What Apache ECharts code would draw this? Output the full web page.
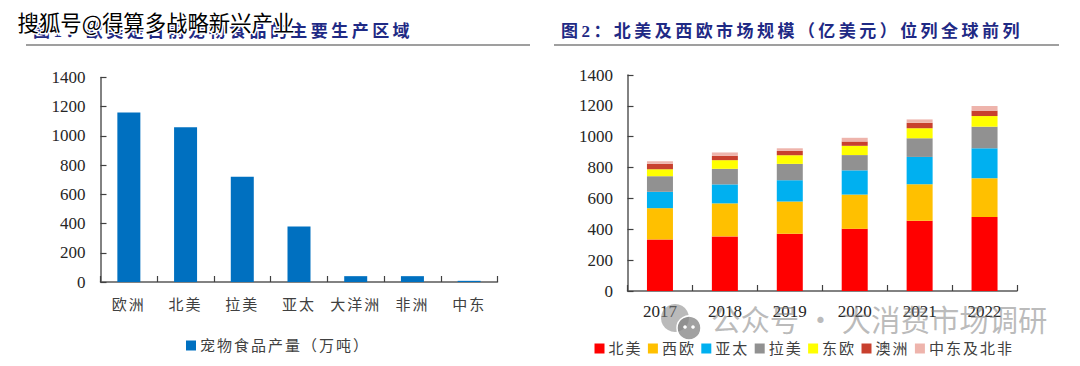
<!DOCTYPE html>
<html>
<head>
<meta charset="utf-8">
<style>
  html, body { margin: 0; padding: 0; background: #fff; }
  #chart { width: 1080px; height: 366px; }
  /* echarts has no letter spacing option, so set it on the svg text */
  #chart text[style*="Liberation Serif"][style*="CJK"] { letter-spacing: 2px; }
  #chart text[style*="Liberation Serif"][style*="bold"] { letter-spacing: 3.45px; }
</style>
<script src="https://cdn.jsdelivr.net/npm/echarts@6/dist/echarts.min.js"></script>
</head>
<body>
<div id="chart"></div>
<script>
const regions = ['欧洲', '北美', '拉美', '亚太', '大洋洲', '非洲', '中东']
const output = [1160, 1060, 720, 380, 40, 40, 8]

const years = ['2017', '2018', '2019', '2020', '2021', '2022']
const northAmerica = [334, 354, 371, 403, 455, 479]
const westEurope = [203, 214, 209, 222, 237, 252]
const asiaPacific = [106, 123, 138, 157, 177, 194]
const latinAmerica = [101, 101, 106, 99, 121, 140]
const eastEurope = [45, 56, 56, 60, 65, 69]
const australasia = [35, 28, 28, 28, 35, 35]
const middleEastAfrica = [17, 22, 17, 24, 22, 30]

const serif = '"Liberation Serif"'
const labelFont = '"Liberation Serif", "Noto Sans CJK SC"'
const axisColor = '#595959'

const axisBase = {
  axisLine: { show: true, lineStyle: { color: axisColor, width: 1.5 } },
  axisTick: { show: true, inside: true, length: 6, lineStyle: { color: '#404040', width: 1.2 } },
  splitLine: { show: false }
}

const valueLabel = margin => ({
  color: '#262626',
  fontSize: 17,
  fontFamily: serif,
  margin,
  formatter: value => String(value)
})

const stackSeries = (name, data, color) => ({
  name,
  data,
  type: 'bar',
  stack: 'market',
  xAxisIndex: 1,
  yAxisIndex: 1,
  barWidth: 26,
  itemStyle: { color }
})

const option = {
  backgroundColor: '#fff',
  animation: false,
  title: [
    {
      text: '图1：欧美是目前宠物食品的主要生产区域',
      left: 28,
      top: 18,
      textStyle: { color: '#1f2a85', fontSize: 17, fontWeight: 'bold', fontFamily: labelFont }
    },
    {
      text: '图2：北美及西欧市场规模（亿美元）位列全球前列',
      left: 556,
      top: 18,
      textStyle: { color: '#1f2a85', fontSize: 17, fontWeight: 'bold', fontFamily: labelFont }
    }
  ],
  grid: [
    { left: 100.5, top: 77.5, width: 397, height: 204.5 },
    { left: 627.5, top: 75, width: 389.5, height: 216 }
  ],
  legend: [
    {
      data: ['宠物食品产量（万吨）'],
      left: 181,
      top: 333,
      icon: 'rect',
      itemWidth: 10,
      itemHeight: 10,
      itemGap: 10,
      textStyle: { color: '#404040', fontSize: 15, fontFamily: labelFont, padding: [0, 0, 0, -1] }
    },
    {
      data: ['北美', '西欧', '亚太', '拉美', '东欧', '澳洲', '中东及北非'],
      left: 589.5,
      top: 336,
      icon: 'rect',
      itemWidth: 10,
      itemHeight: 10,
      itemGap: 9.4,
      textStyle: { color: '#404040', fontSize: 15, fontFamily: labelFont, padding: [0, 0, 0, -1] }
    }
  ],
  xAxis: [
    {
      ...axisBase,
      type: 'category',
      gridIndex: 0,
      data: regions,
      axisLabel: { color: '#404040', fontSize: 15, fontFamily: labelFont, margin: 15, interval: 0 }
    },
    {
      ...axisBase,
      type: 'category',
      gridIndex: 1,
      data: years,
      axisLabel: { color: '#262626', fontSize: 17, fontFamily: serif, margin: 12, interval: 0 }
    }
  ],
  yAxis: [
    {
      ...axisBase,
      type: 'value',
      gridIndex: 0,
      min: 0,
      max: 1400,
      interval: 200,
      axisLabel: valueLabel(15)
    },
    {
      ...axisBase,
      type: 'value',
      gridIndex: 1,
      min: 0,
      max: 1400,
      interval: 200,
      axisLabel: valueLabel(14.5)
    }
  ],
  series: [
    {
      name: '宠物食品产量（万吨）',
      data: output,
      type: 'bar',
      barWidth: 23,
      itemStyle: { color: '#0070c0' }
    },
    stackSeries('北美', northAmerica, '#ff0000'),
    stackSeries('西欧', westEurope, '#ffc000'),
    stackSeries('亚太', asiaPacific, '#00b0f0'),
    stackSeries('拉美', latinAmerica, '#919191'),
    stackSeries('东欧', eastEurope, '#ffff00'),
    stackSeries('澳洲', australasia, '#c8402e'),
    stackSeries('中东及北非', middleEastAfrica, '#eeb4ac')
  ],
  graphic: [
    // rules under the titles
    { type: 'line', shape: { x1: 26, y1: 45, x2: 530, y2: 45 }, style: { stroke: '#7f7f7f', lineWidth: 1.5 } },
    { type: 'line', shape: { x1: 554, y1: 45, x2: 1059, y2: 45 }, style: { stroke: '#7f7f7f', lineWidth: 1.5 } },
    // site stamp over the left title
    {
      type: 'text',
      left: 16,
      top: 9,
      z: 100,
      style: {
        text: '搜狐号@得算多战略新兴产业',
        fill: '#000',
        stroke: '#fff',
        lineWidth: 3,
        font: '21.4px "Noto Sans CJK SC"'
      }
    },
    // watermark
    { type: 'circle', z: 90, shape: { cx: 675, cy: 318, r: 14 }, style: { fill: 'rgba(130,130,130,0.55)' } },
    { type: 'circle', z: 91, shape: { cx: 689, cy: 328, r: 12 }, style: { fill: 'rgba(130,130,130,0.75)', stroke: '#fff', lineWidth: 1.5 } },
    { type: 'circle', z: 92, shape: { cx: 685, cy: 327, r: 1.8 }, style: { fill: '#fff' } },
    { type: 'circle', z: 92, shape: { cx: 693, cy: 327, r: 1.8 }, style: { fill: '#fff' } },
    {
      type: 'text',
      left: 711,
      top: 303,
      z: 90,
      style: {
        text: '公众号 · 大消费市场调研',
        fill: 'rgba(120,120,120,0.5)',
        font: '29.4px "Noto Sans CJK SC"'
      }
    }
  ]
}

const chart = echarts.init(document.getElementById('chart'), null, { renderer: 'svg' })
chart.setOption(option)
</script>
</body>
</html>
